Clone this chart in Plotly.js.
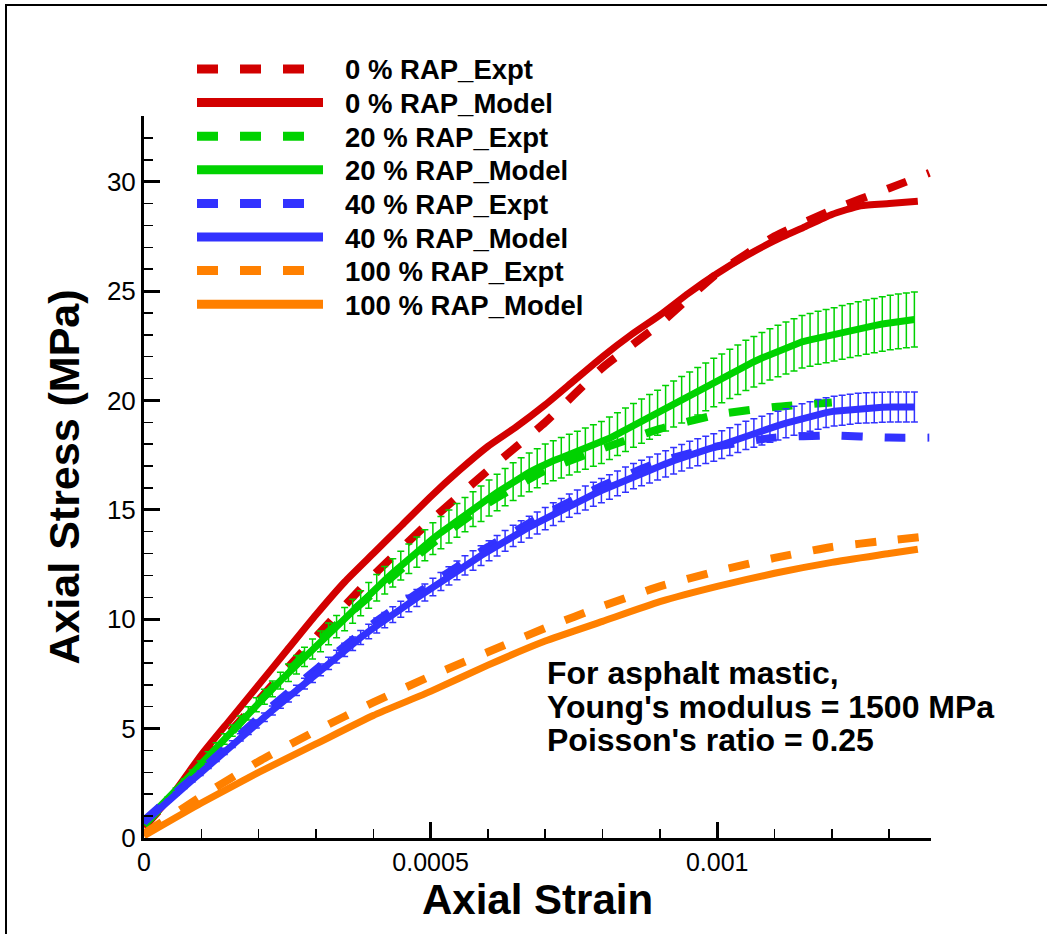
<!DOCTYPE html>
<html><head><meta charset="utf-8">
<script src="https://cdn.plot.ly/plotly-3.0.1.min.js"></script>
<style>
html,body{margin:0;padding:0;background:#fff;}
#wrap{position:relative;width:1047px;height:934px;overflow:hidden;}
#chart{width:1047px;height:934px;}
#frame{position:absolute;left:5px;top:4px;width:1040px;height:940px;border-top:2px solid #000;border-left:2px solid #000;pointer-events:none;}
</style>
</head><body><div id="wrap"><div id="chart"></div><div id="frame"></div></div>
<script>
// ---- data (strain, stress in MPa) ----
const redExptX = [0, 0.0001, 0.0002, 0.0003, 0.0004, 0.0005, 0.0006, 0.0007, 0.0008, 0.0009, 0.001, 0.0011, 0.0012, 0.0013, 0.00137];
const redExptY = [0.5, 3.4, 6.3, 9.2, 12.0, 14.5, 16.8, 19.0, 21.5, 23.5, 25.8, 27.5, 28.7, 29.7, 30.4];

const redModelX = [0, 0.00005, 0.0001, 0.00015, 0.0002, 0.00025, 0.0003, 0.00035, 0.0004, 0.00045, 0.0005, 0.00055, 0.0006, 0.00065, 0.0007, 0.00075, 0.0008, 0.00085, 0.0009, 0.00095, 0.001, 0.00105, 0.0011, 0.00115, 0.0012, 0.00125, 0.0013, 0.00135];
const redModelY = [0.5, 2.0, 3.8, 5.4, 7.0, 8.6, 10.2, 11.7, 13.0, 14.3, 15.6, 16.8, 17.9, 18.8, 19.8, 20.9, 22.0, 23.0, 23.9, 24.9, 25.8, 26.6, 27.3, 27.9, 28.5, 28.9, 29.0, 29.1];

const greenExptX = [0, 0.0001, 0.0002, 0.0003, 0.0004, 0.0005, 0.0006, 0.0007, 0.0008, 0.0009, 0.001, 0.0011, 0.0012];
const greenExptY = [0.6, 3.3, 6.2, 8.9, 11.2, 13.4, 15.3, 16.8, 17.8, 18.7, 19.35, 19.7, 19.9];

// model curves with error bars: sampled every 0.000014 strain starting at 0
const modelStart = 0;
const modelStep = 0.000014;
const greenModelY = [0.7, 1.06, 1.43, 1.79, 2.17, 2.56, 2.95, 3.34, 3.74, 4.13, 4.52, 4.91, 5.30, 5.70, 6.09, 6.46, 6.82, 7.19, 7.55, 7.92, 8.28, 8.64, 8.99, 9.33, 9.66, 10.0, 10.36, 10.73, 11.09, 11.44, 11.78, 12.12, 12.45, 12.76, 13.07, 13.38, 13.68, 13.96, 14.24, 14.52, 14.78, 15.03, 15.28, 15.54, 15.79, 16.04, 16.29, 16.51, 16.71, 16.9, 17.1, 17.24, 17.38, 17.52, 17.66, 17.8, 17.94, 18.08, 18.27, 18.46, 18.66, 18.86, 19.05, 19.25, 19.44, 19.64, 19.84, 20.03, 20.23, 20.42, 20.62, 20.82, 21.01, 21.21, 21.40, 21.6, 21.77, 21.94, 22.1, 22.26, 22.4, 22.54, 22.68, 22.77, 22.86, 22.94, 23.02, 23.11, 23.19, 23.28, 23.35, 23.42, 23.49, 23.56, 23.61, 23.66, 23.7];
const greenErrPercent = 5.3;

const blueExptX = [0, 0.0001, 0.0002, 0.0003, 0.0004, 0.0005, 0.0006, 0.0007, 0.0008, 0.0009, 0.001, 0.0011, 0.0012, 0.0013, 0.00137];
const blueExptY = [0.8, 3.1, 5.5, 7.7, 9.8, 11.6, 13.3, 14.8, 16.1, 17.2, 17.9, 18.3, 18.4, 18.3, 18.3];

const blueModelY = [0.7, 1.04, 1.37, 1.71, 2.03, 2.34, 2.65, 2.96, 3.29, 3.62, 3.96, 4.29, 4.6, 4.9, 5.21, 5.52, 5.83, 6.14, 6.44, 6.75, 7.06, 7.37, 7.68, 7.98, 8.29, 8.6, 8.88, 9.16, 9.44, 9.71, 9.96, 10.21, 10.46, 10.72, 10.97, 11.22, 11.47, 11.72, 11.98, 12.23, 12.46, 12.68, 12.91, 13.13, 13.36, 13.58, 13.81, 14.01, 14.21, 14.4, 14.6, 14.8, 14.99, 15.19, 15.37, 15.54, 15.71, 15.88, 16.04, 16.21, 16.38, 16.54, 16.68, 16.82, 16.96, 17.1, 17.24, 17.38, 17.52, 17.63, 17.74, 17.85, 17.98, 18.12, 18.26, 18.4, 18.51, 18.62, 18.74, 18.85, 18.96, 19.07, 19.18, 19.27, 19.36, 19.44, 19.51, 19.55, 19.6, 19.64, 19.66, 19.67, 19.69, 19.7, 19.7, 19.7, 19.7];
const blueErrPercent = 3.5;

const orangeExptX = [0, 0.0001, 0.0002, 0.0003, 0.0004, 0.0005, 0.0006, 0.0007, 0.0008, 0.0009, 0.001, 0.0011, 0.0012, 0.0013, 0.00137];
const orangeExptY = [0.2, 1.9, 3.5, 4.9, 6.2, 7.4, 8.5, 9.6, 10.6, 11.5, 12.2, 12.8, 13.3, 13.6, 13.8];

const orangeModelX = [0, 0.0001, 0.0002, 0.0003, 0.0004, 0.0005, 0.0006, 0.0007, 0.0008, 0.0009, 0.001, 0.0011, 0.0012, 0.0013, 0.00135];
const orangeModelY = [0.1, 1.6, 3.0, 4.3, 5.6, 6.7, 7.9, 9.0, 9.9, 10.8, 11.5, 12.1, 12.6, 13.0, 13.2];

const seriesNames = ['0 % RAP_Expt', '0 % RAP_Model', '20 % RAP_Expt', '20 % RAP_Model', '40 % RAP_Expt', '40 % RAP_Model', '100 % RAP_Expt', '100 % RAP_Model'];
const xTickVals = [0, 0.0005, 0.001];
const xTickText = ['0', '0.0005', '0.001'];
const yTickVals = [0, 5, 10, 15, 20, 25, 30];
const yTickText = ['0', '5', '10', '15', '20', '25', '30'];
const xTitle = 'Axial Strain';
const yTitle = 'Axial Stress (MPa)';
const noteLines = ["For asphalt mastic,", "Young's modulus = 1500 MPa", "Poisson's ratio = 0.25"];

// ---- styles ----
const RED = '#d20000', GREEN = '#00d200', BLUE = '#3232ff', ORANGE = '#ff8000';
const DASH = '21px,22px';
const FONT = 'Liberation Sans, Arial, Helvetica, sans-serif';

function expt(name, x, y, c) {
  return {type: 'scatter', mode: 'lines', name: name, x: x, y: y, showlegend: false,
    line: {color: c, width: 8, dash: DASH, shape: 'spline', smoothing: 0.5}, hoverinfo: 'skip'};
}
function model(name, x, y, c) {
  return {type: 'scatter', mode: 'lines', name: name, x: x, y: y, showlegend: false,
    line: {color: c, width: 7, shape: 'spline', smoothing: 0.5}, hoverinfo: 'skip'};
}
function modelErr(name, y, c, pct) {
  return {type: 'scatter', mode: 'lines', name: name, x0: modelStart, dx: modelStep, y: y, showlegend: false,
    line: {color: c, width: 7}, hoverinfo: 'skip',
    error_y: {type: 'percent', value: pct, color: c, thickness: 1.5, width: 3.5}};
}

const traces = [
  expt(seriesNames[0], redExptX, redExptY, RED),
  model(seriesNames[1], redModelX, redModelY, RED),
  expt(seriesNames[2], greenExptX, greenExptY, GREEN),
  modelErr(seriesNames[3], greenModelY, GREEN, greenErrPercent),
  expt(seriesNames[4], blueExptX, blueExptY, BLUE),
  modelErr(seriesNames[5], blueModelY, BLUE, blueErrPercent),
  expt(seriesNames[6], orangeExptX, orangeExptY, ORANGE),
  model(seriesNames[7], orangeModelX, orangeModelY, ORANGE)
];

// ---- layout geometry ----
const W = 1047, H = 934;
const mL = 144, mR = 116, mT = 116, mB = 96;
const pw = W - mL - mR, ph = H - mT - mB;
const xp = px => (px - mL) / pw;
const yp = py => (H - mB - py) / ph;

const shapes = [], annotations = [];
const legendY0 = 69, legendDy = 33.6;
traces.forEach((t, k) => {
  const cy = legendY0 + k * legendDy;
  const isExpt = t.line.dash === DASH;
  shapes.push({type: 'line', xref: 'paper', yref: 'paper',
    x0: xp(197), x1: xp(isExpt ? 304 : 323), y0: yp(cy), y1: yp(cy),
    line: {color: t.line.color, width: 9, dash: isExpt ? DASH : 'solid'}});
  annotations.push({xref: 'paper', yref: 'paper', x: xp(343), y: yp(cy + 1), xanchor: 'left', yanchor: 'middle',
    text: t.name, showarrow: false, font: {family: FONT, size: 27.5, color: '#000', weight: 'bold'}});
});
noteLines.forEach((s, k) => {
  annotations.push({xref: 'paper', yref: 'paper', x: xp(545), y: yp(673 + k * 33.6), xanchor: 'left', yanchor: 'middle',
    text: s, showarrow: false, font: {family: FONT, size: 32, color: '#000', weight: 'bold'}});
});
// x-axis title
annotations.push({xref: 'paper', yref: 'paper', x: 0.5, y: yp(899), xanchor: 'center', yanchor: 'middle',
  text: xTitle, showarrow: false, font: {family: FONT, size: 42, color: '#000', weight: 'bold'}});

const axisCommon = {
  showline: true, linecolor: '#000', linewidth: 3, mirror: false,
  showgrid: false, zeroline: false,
  ticks: 'inside', ticklen: 16, tickwidth: 3, tickcolor: '#000',
  tickfont: {family: FONT, size: 25, color: '#000'},
  tickmode: 'array'
};

const layout = {
  width: W, height: H,
  margin: {l: mL, r: mR, t: mT, b: mB, pad: 0},
  paper_bgcolor: '#fff', plot_bgcolor: '#fff',
  showlegend: false,
  xaxis: Object.assign({}, axisCommon, {
    range: [0, 0.001373], tickvals: xTickVals, ticktext: xTickText,
    minor: {tickmode: 'linear', tick0: 0, dtick: 0.0001, ticks: 'inside', ticklen: 9, tickwidth: 1.5, tickcolor: '#000'}
  }),
  yaxis: Object.assign({}, axisCommon, {
    range: [0, 33], tickvals: yTickVals, ticktext: yTickText,
    tickfont: {family: FONT, size: 26, color: '#000'},
    minor: {tickmode: 'linear', tick0: 0, dtick: 1, ticks: 'inside', ticklen: 9, tickwidth: 1.5, tickcolor: '#000'},
    title: {text: yTitle, font: {family: FONT, size: 43, color: '#000', weight: 'bold'}, standoff: 14}
  }),
  shapes: shapes,
  annotations: annotations
};

Plotly.newPlot('chart', traces, layout, {staticPlot: true, displayModeBar: false});
</script></body></html>
